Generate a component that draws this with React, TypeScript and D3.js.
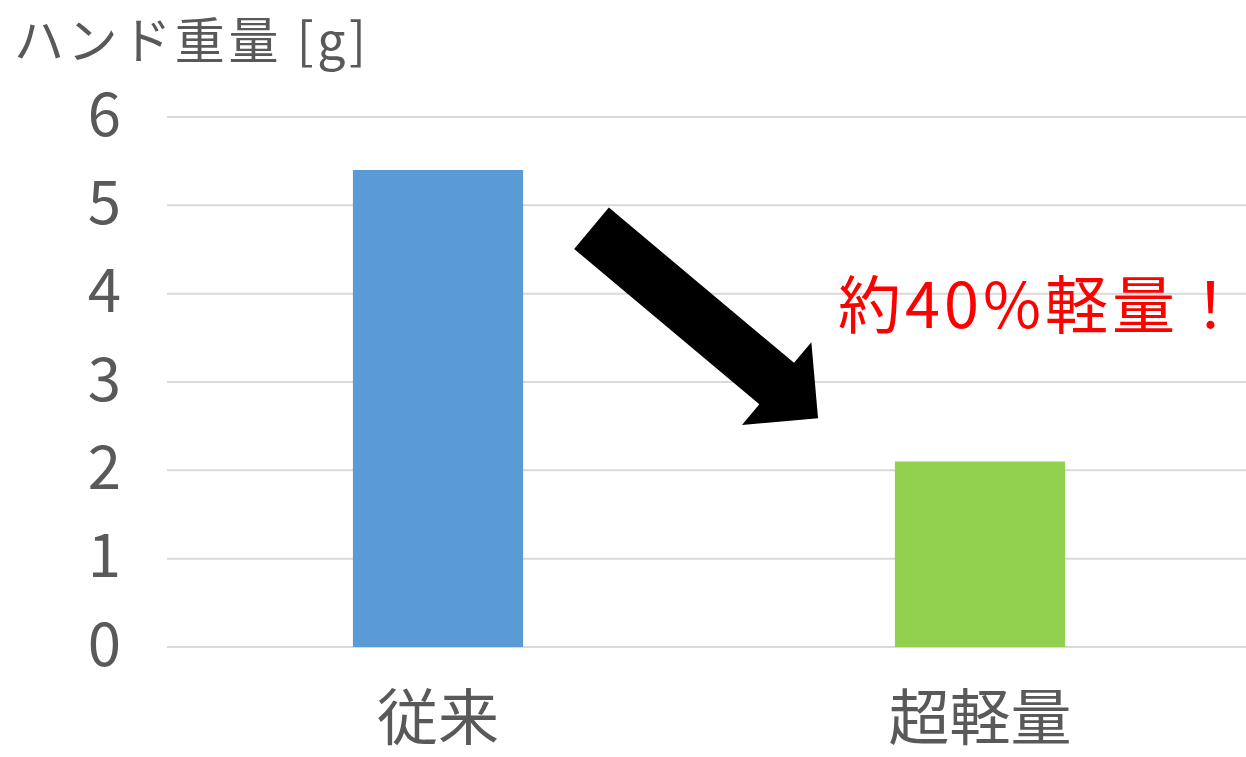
import React from "react";
import * as d3 from "d3";

const categories = ["従来", "超軽量"];
const weights = [5.4, 2.1];
const barColors = ["#5B9BD5", "#92D050"];
const yTicks = [0, 1, 2, 3, 4, 5, 6];
const yTitle = "ハンド重量 [g]";
const annotation = "約40%軽量！";

const W = 1246;
const H = 757;
const plotLeft = 167;
const plotRight = 1251;
const plotTop = 117;
const plotBottom = 647;
const FONT = "'Noto Sans CJK JP', 'Noto Sans', sans-serif";
const GRAY = "#595959";

export default function App() {
  const x = d3.scaleBand<string>().domain(categories).range([plotLeft, plotRight]).padding(0);
  const y = d3.scaleLinear().domain([0, 6]).range([plotBottom, plotTop]);
  const fx = d3.scaleLinear().domain([0, 1]).range([plotLeft, plotRight]);
  const barW = x.bandwidth() * 0.314;

  // arrow annotation (fractional x, value y)
  const tail: [number, number] = [fx(0.3916), y(4.74)];
  const tip: [number, number] = [fx(0.6006), y(2.59)];
  const dx = tip[0] - tail[0];
  const dy = tip[1] - tail[1];
  const len = Math.hypot(dx, dy);
  const ux = dx / len, uy = dy / len;
  const px = -uy, py = ux;
  const shaftHalf = 27;
  const headHalf = 54;
  const headLen = 54;
  const base = [tip[0] - ux * headLen, tip[1] - uy * headLen];
  const pts = [
    [tail[0] + px * shaftHalf, tail[1] + py * shaftHalf],
    [base[0] + px * shaftHalf, base[1] + py * shaftHalf],
    [base[0] + px * headHalf, base[1] + py * headHalf],
    tip,
    [base[0] - px * headHalf, base[1] - py * headHalf],
    [base[0] - px * shaftHalf, base[1] - py * shaftHalf],
    [tail[0] - px * shaftHalf, tail[1] - py * shaftHalf],
  ];
  const arrowPath = d3.line()(pts as [number, number][]) + "Z";

  return (
    <svg width={W} height={H} style={{ position: "absolute", left: 0, top: 0, background: "#fff" }}>
      {yTicks.map((t) => (
        <g key={t}>
          <line x1={plotLeft} x2={W} y1={y(t)} y2={y(t)} stroke="#d9d9d9" strokeWidth={2} />
          <text x={121} y={y(t) - 8} textAnchor="end" dominantBaseline="central" fontFamily={FONT} fontSize={60} fill={GRAY}>
            {t}
          </text>
        </g>
      ))}
      {categories.map((c, i) => {
        const cx = (x(c) as number) + x.bandwidth() / 2;
        return (
          <g key={c}>
            <rect x={cx - barW / 2} y={y(weights[i])} width={barW} height={y(0) - y(weights[i])} fill={barColors[i]} />
            <text x={cx} y={713} textAnchor="middle" dominantBaseline="central" fontFamily={FONT} fontSize={61} fill={GRAY}>
              {c}
            </text>
          </g>
        );
      })}
      <text x={14} y={37} dominantBaseline="central" fontFamily={FONT} fontSize={50} fill={GRAY} textLength={352}>
        {yTitle}
      </text>
      <path d={arrowPath} fill="#000" />
      <text x={838} y={y(3.88) - 4} dominantBaseline="central" fontFamily={FONT} fontSize={63} fill="#FF0000" textLength={404}>
        {annotation}
      </text>
    </svg>
  );
}
